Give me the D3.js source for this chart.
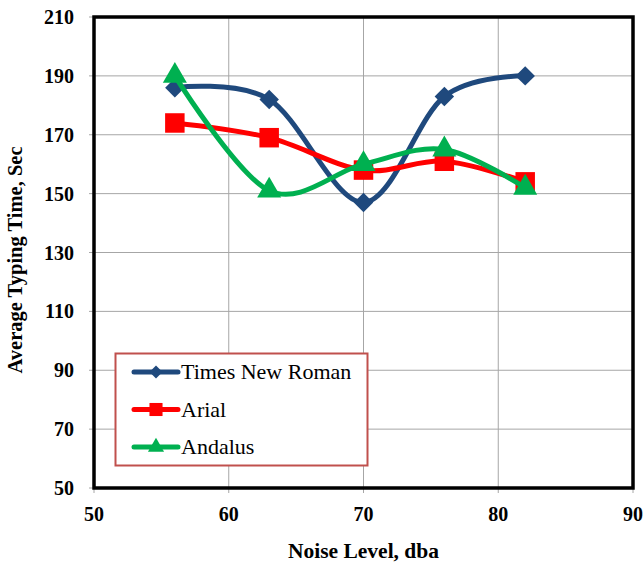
<!DOCTYPE html>
<html>
<head>
<meta charset="utf-8">
<script src="https://cdn.jsdelivr.net/npm/d3@7"></script>
<style>
body { margin: 0; background: #fff; }
</style>
</head>
<body>
<svg id="chart"></svg>
<script>
var width = 644,
    height = 563;

// data
var noiseLevels = [56, 63, 70, 76, 82];
var timesNewRoman = [186, 182, 147, 183, 190];
var arial = [174, 169, 158, 161, 154];
var andalus = [190, 151, 160, 165, 152];
var seriesNames = ["Times New Roman", "Arial", "Andalus"];
var xTicks = [50, 60, 70, 80, 90];
var yTicks = [50, 70, 90, 110, 130, 150, 170, 190, 210];

var colors = ["#1f497d", "#ff0000", "#00b050"];
var symbols = [d3.symbolSquare, d3.symbolSquare, d3.symbolTriangle];
var symbolSizes = [190, 380, 250];
var symbolRotate = [45, 0, 0];

var margin = {left: 94, right: 11, top: 17, bottom: 75};
var fontName = "'Liberation Serif', 'Times New Roman', Tinos, serif";

var svg = d3.select('#chart')
            .attr('width', width)
            .attr('height', height)
            .attr('font-family', fontName);

var x = d3.scaleLinear()
          .domain([50, 90])
          .range([margin.left, width - margin.right]);
var y = d3.scaleLinear()
          .domain([50, 210])
          .range([height - margin.bottom, margin.top]);

// gridlines
svg.append('g')
  .selectAll('line')
  .data(xTicks)
  .enter()
  .append('line')
    .attr('x1', d => x(d)).attr('x2', d => x(d))
    .attr('y1', y(210)).attr('y2', y(50) + 5)
    .attr('stroke', '#a6a6a6').attr('stroke-width', 1);

svg.append('g')
  .selectAll('line')
  .data(yTicks)
  .enter()
  .append('line')
    .attr('x1', x(50) - 5).attr('x2', x(90))
    .attr('y1', d => y(d)).attr('y2', d => y(d))
    .attr('stroke', '#a6a6a6').attr('stroke-width', 1);

// frame
svg.append('rect')
  .attr('x', x(50)).attr('y', y(210))
  .attr('width', x(90) - x(50)).attr('height', y(50) - y(210))
  .attr('fill', 'none').attr('stroke', '#000').attr('stroke-width', 3.5);

// tick labels
svg.append('g')
  .selectAll('text')
  .data(xTicks)
  .enter()
  .append('text')
    .attr('x', d => x(d))
    .attr('y', y(50) + 33)
    .attr('text-anchor', 'middle')
    .attr('font-weight', 'bold')
    .attr('font-size', 20)
    .text(d => d);

svg.append('g')
  .selectAll('text')
  .data(yTicks)
  .enter()
  .append('text')
    .attr('x', x(50) - 20)
    .attr('y', d => y(d) + 7)
    .attr('text-anchor', 'end')
    .attr('font-weight', 'bold')
    .attr('font-size', 20)
    .text(d => d);

// axis titles
svg.append('text')
  .attr('x', (x(50) + x(90)) / 2)
  .attr('y', 558)
  .attr('text-anchor', 'middle')
  .attr('font-weight', 'bold')
  .attr('font-size', 21.5)
  .text('Noise Level, dba');

svg.append('text')
  .attr('transform', 'translate(22,260) rotate(-90)')
  .attr('text-anchor', 'middle')
  .attr('font-weight', 'bold')
  .attr('font-size', 20.5)
  .text('Average Typing Time, Sec');

// series
var allSeries = [timesNewRoman, arial, andalus];

var line = d3.line()
             .x((d, i) => x(noiseLevels[i]))
             .y(d => y(d))
             .curve(d3.curveCatmullRom.alpha(0));

allSeries.forEach(function(values, s){
  var g = svg.append('g');
  g.append('path')
    .attr('d', line(values))
    .attr('fill', 'none')
    .attr('stroke', colors[s])
    .attr('stroke-width', 5);
  g.selectAll('path.mark')
    .data(values)
    .enter()
    .append('path')
      .classed('mark', true)
      .attr('transform', (d, i) => 'translate(' + x(noiseLevels[i]) + ',' + y(d) + ') rotate(' + symbolRotate[s] + ')')
      .attr('d', d3.symbol().type(symbols[s]).size(symbolSizes[s]))
      .attr('fill', colors[s]);
});

// legend
var legend = svg.append('g');
legend.append('rect')
  .attr('x', 115.5).attr('y', 353.5)
  .attr('width', 252).attr('height', 112)
  .attr('fill', '#fff')
  .attr('stroke', '#c0504d').attr('stroke-width', 2);

seriesNames.forEach(function(name, s){
  var ly = 372 + s * 37.5;
  legend.append('line')
    .attr('x1', 134).attr('x2', 178)
    .attr('y1', ly).attr('y2', ly)
    .attr('stroke', colors[s]).attr('stroke-width', 5)
    .attr('stroke-linecap', 'round');
  legend.append('path')
    .attr('transform', 'translate(156,' + ly + ') rotate(' + symbolRotate[s] + ')')
    .attr('d', d3.symbol().type(symbols[s]).size(symbolSizes[s] * 0.45))
    .attr('fill', colors[s]);
  legend.append('text')
    .attr('x', 181)
    .attr('y', ly + 7)
    .attr('font-size', 22)
    .text(name);
});
</script>
</body>
</html>
